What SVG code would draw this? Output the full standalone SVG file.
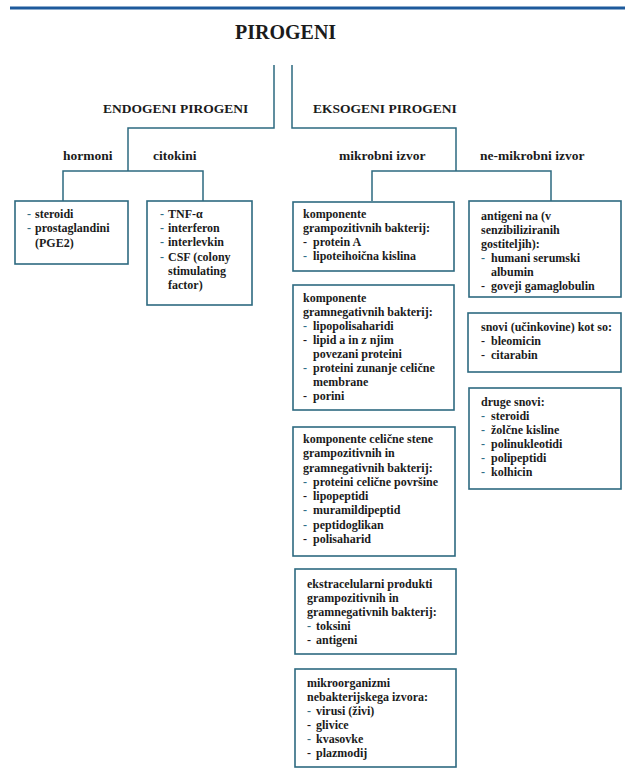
<svg xmlns="http://www.w3.org/2000/svg" width="625" height="769" viewBox="0 0 625 769">
<style>
  .bg{fill:#ffffff}
  .t{font-family:"Liberation Serif","Times New Roman",serif;font-weight:bold;fill:#1b1b1b}
  .h1{font-size:20px}
  .h2{font-size:13.5px}
  .b{font-size:12px}
  .d{fill:#2f6f88}
  .box{fill:#ffffff;stroke:#2d6a80;stroke-width:1.6}
  .ln{fill:none;stroke:#2d6a80;stroke-width:1.5}
</style>
<rect class="bg" x="0" y="0" width="625" height="769"/>
<line x1="10" y1="8" x2="625" y2="8" stroke="#1d5a9c" stroke-width="3"/>

<g id="root">
  <text class="t h1" x="235" y="39">PIROGENI</text>
</g>

<g id="connectors">
  <path class="ln" d="M274,65 V128 H128 V171"/>
  <path class="ln" d="M63,201 V171 H203 V201"/>
  <path class="ln" d="M292,65 V128 H456 V171"/>
  <path class="ln" d="M372,201 V171 H551 V201"/>
</g>

<g id="endogeni">
  <text class="t h2" x="103" y="113">ENDOGENI PIROGENI</text>
</g>
<g id="eksogeni">
  <text class="t h2" x="313" y="113">EKSOGENI PIROGENI</text>
</g>
<g id="hormoni">
  <text class="t h2" x="63" y="160">hormoni</text>
</g>
<g id="citokini">
  <text class="t h2" x="153" y="160">citokini</text>
</g>
<g id="mikrobni">
  <text class="t h2" x="339" y="160">mikrobni izvor</text>
</g>
<g id="nemikrobni">
  <text class="t h2" x="480" y="160">ne-mikrobni izvor</text>
</g>

<g id="box-hormoni">
  <rect class="box" x="15" y="201" width="113" height="63"/>
  <text class="t b"><tspan class="d" x="27" y="218">-</tspan><tspan x="35" y="218">steroidi</tspan></text>
  <text class="t b"><tspan class="d" x="27" y="232">-</tspan><tspan x="35" y="232">prostaglandini</tspan></text>
  <text class="t b" x="35" y="246.5">(PGE2)</text>
</g>

<g id="box-citokini">
  <rect class="box" x="147" y="201" width="105" height="104"/>
  <text class="t b"><tspan class="d" x="160" y="218">-</tspan><tspan x="168" y="218">TNF-α</tspan></text>
  <text class="t b"><tspan class="d" x="160" y="232">-</tspan><tspan x="168" y="232">interferon</tspan></text>
  <text class="t b"><tspan class="d" x="160" y="246">-</tspan><tspan x="168" y="246">interlevkin</tspan></text>
  <text class="t b"><tspan class="d" x="160" y="260.5">-</tspan><tspan x="168" y="260.5">CSF (colony</tspan></text>
  <text class="t b" x="168" y="275">stimulating</text>
  <text class="t b" x="168" y="289">factor)</text>
</g>

<g id="box-grampoz">
  <rect class="box" x="293" y="202" width="161" height="69"/>
  <text class="t b" x="303" y="218">komponente</text>
  <text class="t b" x="303" y="232">grampozitivnih bakterij:</text>
  <text class="t b"><tspan x="303" y="246">-</tspan><tspan x="313" y="246">protein A</tspan></text>
  <text class="t b"><tspan class="d" x="303" y="260">-</tspan><tspan x="313" y="260">lipoteihoična kislina</tspan></text>
</g>

<g id="box-gramneg">
  <rect class="box" x="293" y="285" width="161" height="125"/>
  <text class="t b" x="303" y="302">komponente</text>
  <text class="t b" x="303" y="316">gramnegativnih bakterij:</text>
  <text class="t b"><tspan class="d" x="303" y="330">-</tspan><tspan x="313" y="330">lipopolisaharidi</tspan></text>
  <text class="t b"><tspan x="303" y="344">-</tspan><tspan x="313" y="344">lipid a in z njim</tspan></text>
  <text class="t b" x="313" y="358">povezani proteini</text>
  <text class="t b"><tspan class="d" x="303" y="372">-</tspan><tspan x="313" y="372">proteini zunanje celične</tspan></text>
  <text class="t b" x="313" y="386">membrane</text>
  <text class="t b"><tspan x="303" y="400">-</tspan><tspan x="313" y="400">porini</tspan></text>
</g>

<g id="box-stena">
  <rect class="box" x="293" y="427" width="162" height="129"/>
  <text class="t b" x="303" y="443">komponente celične stene</text>
  <text class="t b" x="303" y="457">grampozitivnih in</text>
  <text class="t b" x="303" y="471.5">gramnegativnih bakterij:</text>
  <text class="t b"><tspan class="d" x="303" y="486">-</tspan><tspan x="313" y="486">proteini celične površine</tspan></text>
  <text class="t b"><tspan x="303" y="500">-</tspan><tspan x="313" y="500">lipopeptidi</tspan></text>
  <text class="t b"><tspan class="d" x="303" y="514">-</tspan><tspan x="313" y="514">muramildipeptid</tspan></text>
  <text class="t b"><tspan class="d" x="303" y="528.5">-</tspan><tspan x="313" y="528.5">peptidoglikan</tspan></text>
  <text class="t b"><tspan x="303" y="543">-</tspan><tspan x="313" y="543">polisaharid</tspan></text>
</g>

<g id="box-ekstra">
  <rect class="box" x="295" y="569" width="161" height="85"/>
  <text class="t b" x="307" y="588">ekstracelularni produkti</text>
  <text class="t b" x="307" y="602">grampozitivnih in</text>
  <text class="t b" x="307" y="616">gramnegativnih bakterij:</text>
  <text class="t b"><tspan class="d" x="307" y="630">-</tspan><tspan x="316" y="630">toksini</tspan></text>
  <text class="t b"><tspan x="307" y="644">-</tspan><tspan x="316" y="644">antigeni</tspan></text>
</g>

<g id="box-mikroorg">
  <rect class="box" x="295" y="669" width="161" height="98"/>
  <text class="t b" x="307" y="687">mikroorganizmi</text>
  <text class="t b" x="307" y="701">nebakterijskega izvora:</text>
  <text class="t b"><tspan class="d" x="307" y="715">-</tspan><tspan x="316" y="715">virusi (živi)</tspan></text>
  <text class="t b"><tspan x="307" y="729">-</tspan><tspan x="316" y="729">glivice</tspan></text>
  <text class="t b"><tspan class="d" x="307" y="743">-</tspan><tspan x="316" y="743">kvasovke</tspan></text>
  <text class="t b"><tspan x="307" y="757">-</tspan><tspan x="316" y="757">plazmodij</tspan></text>
</g>

<g id="box-antigeni">
  <rect class="box" x="469" y="201" width="152" height="96"/>
  <text class="t b" x="481" y="220">antigeni na (v</text>
  <text class="t b" x="481" y="233.5">senzibiliziranih</text>
  <text class="t b" x="481" y="247.5">gostiteljih):</text>
  <text class="t b"><tspan class="d" x="481" y="261.5">-</tspan><tspan x="491" y="261.5">humani serumski</tspan></text>
  <text class="t b" x="491" y="275.5">albumin</text>
  <text class="t b"><tspan x="481" y="289.5">-</tspan><tspan x="491" y="289.5">goveji gamaglobulin</tspan></text>
</g>

<g id="box-snovi">
  <rect class="box" x="468" y="313" width="153" height="59"/>
  <text class="t b" x="481" y="331">snovi (učinkovine) kot so:</text>
  <text class="t b"><tspan x="481" y="345">-</tspan><tspan x="491" y="345">bleomicin</tspan></text>
  <text class="t b"><tspan x="481" y="359">-</tspan><tspan x="491" y="359">citarabin</tspan></text>
</g>

<g id="box-druge">
  <rect class="box" x="469" y="388" width="152" height="101"/>
  <text class="t b" x="481" y="406">druge snovi:</text>
  <text class="t b"><tspan class="d" x="481" y="420">-</tspan><tspan x="491" y="420">steroidi</tspan></text>
  <text class="t b"><tspan class="d" x="481" y="434">-</tspan><tspan x="491" y="434">žolčne kisline</tspan></text>
  <text class="t b"><tspan class="d" x="481" y="448">-</tspan><tspan x="491" y="448">polinukleotidi</tspan></text>
  <text class="t b"><tspan class="d" x="481" y="462">-</tspan><tspan x="491" y="462">polipeptidi</tspan></text>
  <text class="t b"><tspan class="d" x="481" y="476">-</tspan><tspan x="491" y="476">kolhicin</tspan></text>
</g>
</svg>
